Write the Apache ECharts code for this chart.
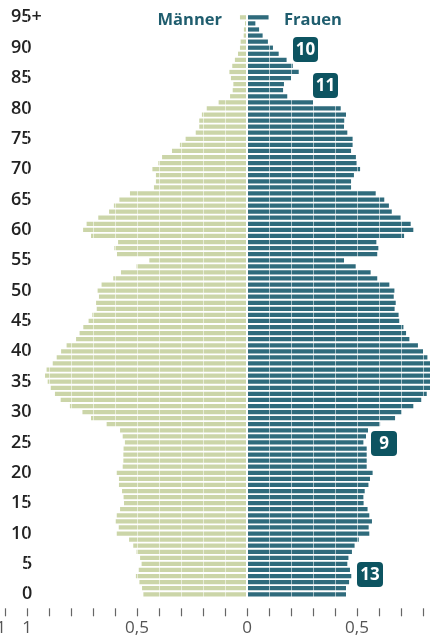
<!DOCTYPE html>
<html>
<head>
<meta charset="utf-8">
<script src="https://cdn.jsdelivr.net/npm/echarts@6/dist/echarts.min.js"></script>
<style>
html,body{margin:0;padding:0;background:#fff;}
#chart{width:430px;height:641px;}
</style>
</head>
<body>
<div id="chart"></div>
<script>
const ages = [];
for (let a = 0; a <= 94; a++) ages.push(String(a));
ages.push('95+');

const maenner = [
0.471,0.477,0.489,0.505,0.492,0.479,0.486,0.502,0.517,0.536,
0.592,0.583,0.598,0.592,0.577,0.559,0.561,0.568,0.582,0.582,
0.592,0.565,0.562,0.562,0.561,0.555,0.565,0.577,0.638,0.709,
0.748,0.805,0.847,0.873,0.892,0.906,0.918,0.911,0.883,0.865,
0.845,0.820,0.777,0.761,0.744,0.720,0.703,0.683,0.686,0.673,
0.679,0.661,0.608,0.573,0.502,0.444,0.591,0.603,0.586,0.709,
0.745,0.729,0.676,0.627,0.605,0.580,0.532,0.423,0.414,0.414,
0.430,0.403,0.386,0.341,0.305,0.279,0.233,0.217,0.217,0.205,
0.183,0.129,0.077,0.065,0.062,0.073,0.080,0.067,0.055,0.041,
0.032,0.029,0.015,0.014,0.009,0.032
];

const frauen = [
0.450,0.450,0.464,0.474,0.468,0.456,0.461,0.477,0.489,0.508,
0.556,0.553,0.568,0.556,0.548,0.530,0.529,0.535,0.552,0.559,
0.571,0.544,0.544,0.544,0.544,0.529,0.541,0.550,0.605,0.673,
0.703,0.756,0.792,0.817,0.835,0.850,0.860,0.855,0.840,0.820,
0.800,0.777,0.738,0.723,0.711,0.692,0.689,0.671,0.676,0.667,
0.670,0.647,0.592,0.562,0.494,0.441,0.592,0.597,0.588,0.714,
0.756,0.744,0.698,0.658,0.645,0.624,0.585,0.473,0.473,0.486,
0.514,0.498,0.495,0.473,0.480,0.480,0.456,0.441,0.442,0.450,
0.426,0.300,0.183,0.164,0.168,0.200,0.235,0.208,0.180,0.144,
0.118,0.095,0.071,0.055,0.038,0.098
];

const xTickValues = [-1.1, -1, -0.5, 0, 0.5, 1];
const xTickLabels = ['1', '1', '0,5', '0', '0,5', '1'];

const badges = ['10', '11', '9', '13'];

const chart = echarts.init(document.getElementById('chart'), null, {renderer: 'canvas'});

const badgeBoxes = [
  {x: 293, y: 37, w: 25, h: 25},
  {x: 313, y: 73, w: 25, h: 25},
  {x: 371, y: 431, w: 26, h: 25},
  {x: 357, y: 562, w: 26, h: 25}
];
const graphics = [];
badges.forEach((t, i) => {
  const b = badgeBoxes[i];
  graphics.push({
    type: 'rect', z: 20,
    shape: {x: b.x, y: b.y, width: b.w, height: b.h, r: 4},
    style: {fill: '#0d5461'}
  });
  graphics.push({
    type: 'text', z: 21,
    x: b.x + b.w / 2, y: b.y + b.h / 2 + 0.5,
    style: {text: t, fill: '#fff', font: 'bold 17px "Open Sans"', textAlign: 'center', textVerticalAlign: 'middle'}
  });
});
graphics.push({
  type: 'text', z: 21, x: 222, y: 20,
  style: {text: 'Männer', fill: '#1f5d6e', font: 'bold 16.5px "Open Sans"', textAlign: 'right', textVerticalAlign: 'middle'}
});
graphics.push({
  type: 'text', z: 21, x: 284, y: 20,
  style: {text: 'Frauen', fill: '#1f5d6e', font: 'bold 16.5px "Open Sans"', textAlign: 'left', textVerticalAlign: 'middle'}
});

const yFont = {color: '#222', fontSize: 18, fontWeight: 600, fontFamily: 'Open Sans'};

const option = {
  animation: false,
  grid: {left: -17, width: 528, top: 14.3, height: 583, containLabel: false, outerBoundsMode: 'none'},
  xAxis: {
    type: 'value', min: -1.2, max: 1.2, interval: 0.1,
    position: 'bottom', offset: 11, z: 5,
    axisLine: {show: false},
    axisTick: {show: true, length: 8, lineStyle: {color: '#666', width: 1.2}},
    axisLabel: {
      margin: 11, color: '#555', fontSize: 17, fontFamily: 'Open Sans',
      formatter: function (v) {
        for (let i = 0; i < xTickValues.length; i++) {
          if (Math.abs(v - xTickValues[i]) < 1e-6) {
            return i === 0 ? '{e|' + xTickLabels[i] + '}' : xTickLabels[i];
          }
        }
        return '';
      },
      rich: {
        e: {color: '#555', fontSize: 17, fontFamily: 'Open Sans', padding: [0, 8, 0, 0]}
      }
    },
    splitLine: {show: true, lineStyle: {color: 'rgba(255,255,255,0.55)', width: 1}}
  },
  yAxis: {
    type: 'category', data: ages, position: 'left', offset: -28,
    axisLine: {show: false}, axisTick: {show: false},
    axisLabel: {
      interval: 0, margin: 0, align: 'left', color: '#222', fontSize: 18, fontWeight: 600, fontFamily: 'Open Sans',
      formatter: function (v) {
        if (v === '95+') return '{n|95+}';
        const k = parseInt(v, 10);
        if (k % 5 !== 0) return '';
        if (k < 10) return '{s| }{n|' + v + '}';
        return '{n|' + v + '}';
      },
      rich: {
        n: yFont,
        s: Object.assign({}, yFont, {width: 11})
      }
    }
  },
  series: [
    {
      name: 'Männer', type: 'bar', stack: 'p', barWidth: '70%',
      itemStyle: {color: '#cbd5a8'},
      data: maenner.map(v => -v)
    },
    {
      name: 'Frauen', type: 'bar', stack: 'p', barWidth: '70%',
      itemStyle: {color: '#2f6b7c'},
      data: frauen.slice(),
      markLine: {
        silent: true, symbol: 'none', label: {show: false},
        lineStyle: {color: '#fff', width: 2, type: 'solid'},
        data: [{xAxis: 0}]
      }
    }
  ],
  graphic: graphics
};
chart.setOption(option);
</script>
</body>
</html>
